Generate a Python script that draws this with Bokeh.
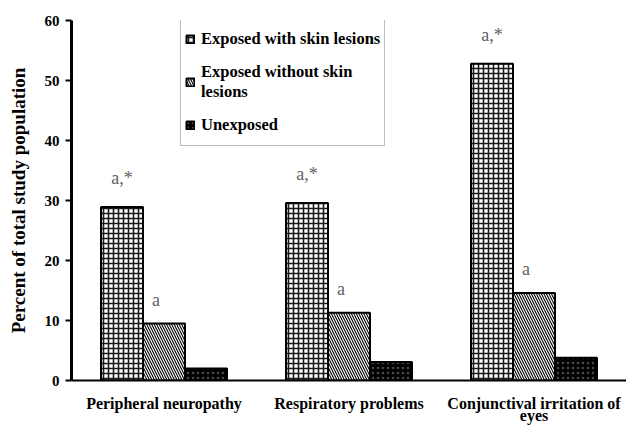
from bokeh.plotting import figure
from bokeh.models import (ColumnDataSource, FactorRange, Range1d, FixedTicker,
                          Legend, LegendItem)
from bokeh.transform import dodge
from bokeh.core.properties import value
from bokeh.embed import file_html
from bokeh.resources import INLINE

# ---- data -------------------------------------------------------------
categories = ["Peripheral neuropathy", "Respiratory problems",
              "Conjunctival irritation of\neyes"]
with_lesions = [28.9, 29.6, 52.8]       # Exposed with skin lesions
without_lesions = [9.5, 11.3, 14.6]     # Exposed without skin lesions
unexposed = [2.0, 3.1, 3.8]             # Unexposed
series_names = ["Exposed with skin lesions", "Exposed without skin\nlesions",
                "Unexposed"]
y_ticks = [0, 10, 20, 30, 40, 50, 60]
star_labels = ["a,*", "a,*", "a,*"]
a_labels = ["a", "a", "a"]

source = ColumnDataSource(dict(cat=categories, w=with_lesions,
                               wo=without_lesions, u=unexposed,
                               star=star_labels, a=a_labels))

SERIF = "Liberation Serif"
BW = 0.227  # bar width in category units

p = figure(x_range=FactorRange(factors=categories, range_padding=0, factor_padding=0),
           y_range=Range1d(0, 60),
           width=626, height=427, output_backend="svg", toolbar_location=None,
           min_border_left=71, min_border_right=0, min_border_top=20,
           min_border_bottom=47)

p.outline_line_color = None
p.grid.grid_line_color = None
p.background_fill_color = "white"
p.border_fill_color = "white"

r1 = p.vbar(x=dodge("cat", -BW, range=p.x_range), top="w", width=BW, source=source,
            fill_color="white", line_color="black", line_width=2,
            hatch_pattern="cross", hatch_color="#1a1a1a", hatch_scale=5, hatch_weight=1.6)
r2 = p.vbar(x=dodge("cat", 0, range=p.x_range), top="wo", width=BW, source=source,
            fill_color="white", line_color="black", line_width=2,
            hatch_pattern="left_diagonal_line", hatch_color="black",
            hatch_scale=5, hatch_weight=1.1)
r3 = p.vbar(x=dodge("cat", BW, range=p.x_range), top="u", width=BW, source=source,
            fill_color="black", line_color="black", line_width=2,
            hatch_pattern="dot", hatch_color="#4a4a4a", hatch_scale=5, hatch_weight=0.8)

p.text(x=dodge("cat", -BW, range=p.x_range), y="w", text="star", source=source,
       y_offset=-29, text_align="center", text_baseline="middle",
       text_font=value(SERIF), text_font_size="18px", text_color="#5f5f5f")
p.text(x=dodge("cat", 0, range=p.x_range), y="wo", text="a", source=source,
       x_offset=-8, y_offset=-24, text_align="center", text_baseline="middle",
       text_font=value(SERIF), text_font_size="18px", text_color="#5f5f5f")

# y axis
ya = p.yaxis[0]
ya.ticker = FixedTicker(ticks=y_ticks)
ya.minor_tick_line_color = None
ya.axis_line_width = 3
ya.major_tick_line_width = 2
ya.major_tick_out = 6
ya.major_tick_in = 0
ya.major_label_standoff = 6
ya.major_label_text_font = SERIF
ya.major_label_text_font_style = "bold"
ya.major_label_text_font_size = "15px"
ya.major_label_text_color = "black"
ya.axis_label = "Percent of total study population"
ya.axis_label_text_font = SERIF
ya.axis_label_text_font_style = "bold"
ya.axis_label_text_font_size = "19px"
ya.axis_label_text_color = "black"
ya.axis_label_standoff = 13

# x axis
xa = p.xaxis[0]
xa.axis_line_width = 2
xa.major_tick_line_color = None
xa.minor_tick_line_color = None
xa.major_tick_out = 0
xa.major_tick_in = 0
xa.major_label_standoff = 14
xa.major_label_text_font = SERIF
xa.major_label_text_font_style = "bold"
xa.major_label_text_font_size = "16px"
xa.major_label_text_line_height = 0.75
xa.major_label_text_color = "black"

legend = Legend(items=[LegendItem(label=series_names[0], renderers=[r1]),
                       LegendItem(label=series_names[1], renderers=[r2]),
                       LegendItem(label=series_names[2], renderers=[r3])],
                location=(109, 234), orientation="vertical",
                label_text_font=SERIF, label_text_font_style="bold",
                label_text_font_size="16.5px", label_text_color="black",
                label_text_line_height=1.35,
                border_line_color="#808080", border_line_width=1.5,
                background_fill_color="white", background_fill_alpha=1,
                padding=4, spacing=7, margin=0,
                glyph_width=10, glyph_height=10, label_standoff=6,
                label_height=32)
p.add_layout(legend)

open("out.html", "w").write(file_html(p, INLINE))
